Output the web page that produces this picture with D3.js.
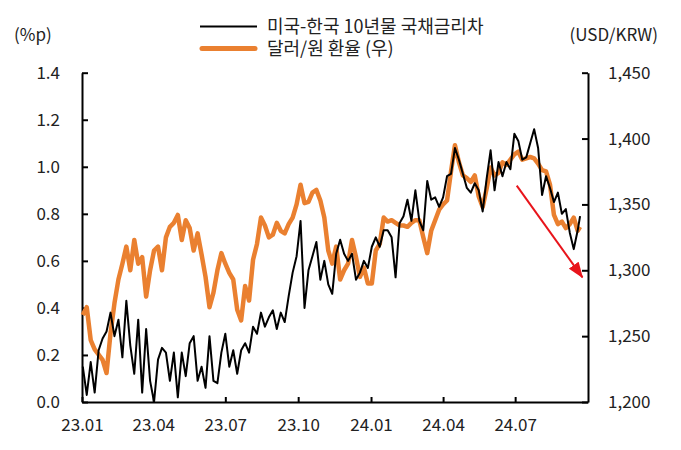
<!DOCTYPE html>
<meta charset="utf-8">
<script src="https://d3js.org/d3.v7.min.js"></script>
<style>
  body { margin: 0; background: #fff; }
  text { font-family: 'Noto Sans CJK KR', 'Noto Sans', sans-serif; fill: #222; }
</style>
<body>
<div id="chart"></div>
<script>

// sample dates (every 5 days)
var dates = ["2023-01-02","2023-01-07","2023-01-12","2023-01-17","2023-01-22","2023-01-27",
  "2023-02-01","2023-02-06","2023-02-11","2023-02-16","2023-02-21","2023-02-26",
  "2023-03-03","2023-03-08","2023-03-13","2023-03-18","2023-03-23","2023-03-28",
  "2023-04-02","2023-04-07","2023-04-12","2023-04-17","2023-04-22","2023-04-27",
  "2023-05-02","2023-05-07","2023-05-12","2023-05-17","2023-05-22","2023-05-27",
  "2023-06-01","2023-06-06","2023-06-11","2023-06-16","2023-06-21","2023-06-26",
  "2023-07-01","2023-07-06","2023-07-11","2023-07-16","2023-07-21","2023-07-26","2023-07-31",
  "2023-08-05","2023-08-10","2023-08-15","2023-08-20","2023-08-25","2023-08-30",
  "2023-09-04","2023-09-09","2023-09-14","2023-09-19","2023-09-24","2023-09-29",
  "2023-10-04","2023-10-09","2023-10-14","2023-10-19","2023-10-24","2023-10-29",
  "2023-11-03","2023-11-08","2023-11-13","2023-11-18","2023-11-23","2023-11-28",
  "2023-12-03","2023-12-08","2023-12-13","2023-12-18","2023-12-23","2023-12-28",
  "2024-01-02","2024-01-07","2024-01-12","2024-01-17","2024-01-22","2024-01-27",
  "2024-02-01","2024-02-06","2024-02-11","2024-02-16","2024-02-21","2024-02-26",
  "2024-03-02","2024-03-07","2024-03-12","2024-03-17","2024-03-22","2024-03-27",
  "2024-04-01","2024-04-06","2024-04-11","2024-04-16","2024-04-21","2024-04-26",
  "2024-05-01","2024-05-06","2024-05-11","2024-05-16","2024-05-21","2024-05-26","2024-05-31",
  "2024-06-05","2024-06-10","2024-06-15","2024-06-20","2024-06-25","2024-06-30",
  "2024-07-05","2024-07-10","2024-07-15","2024-07-20","2024-07-25","2024-07-30",
  "2024-08-04","2024-08-09","2024-08-14","2024-08-19","2024-08-24","2024-08-29",
  "2024-09-03","2024-09-08","2024-09-13","2024-09-18","2024-09-21"];

// US-Korea 10y spread (%p, left axis)
var spread = [0.15,0.03,0.17,0.04,0.22,0.27,0.30,0.38,0.28,0.35,0.19,0.43,0.24,0.12,0.35,0.04,0.31,0.09,
  0.00,0.18,0.23,0.21,0.09,0.21,0.02,0.21,0.11,0.25,0.28,0.09,0.15,0.06,0.28,0.09,0.08,0.21,
  0.29,0.15,0.22,0.12,0.22,0.25,0.21,0.32,0.29,0.38,0.32,0.36,0.39,0.31,0.38,0.34,0.45,0.55,
  0.62,0.77,0.40,0.56,0.62,0.68,0.52,0.60,0.50,0.46,0.63,0.69,0.63,0.60,0.63,0.52,0.55,0.60,
  0.57,0.66,0.70,0.66,0.73,0.73,0.70,0.53,0.76,0.79,0.86,0.77,0.90,0.77,0.73,0.94,0.86,0.87,
  0.83,0.87,0.96,0.97,1.08,1.03,0.97,0.91,0.89,0.93,0.90,0.81,0.95,1.07,0.90,1.02,0.96,1.02,
  0.99,1.14,1.11,1.03,1.04,1.10,1.16,1.08,0.88,0.96,0.91,0.85,0.89,0.80,0.82,0.72,0.65,0.73,0.79];

// USD/KRW (right axis)
var usdkrw = [1266,1272,1247,1240,1236,1232,1222,1252,1275,1293,1305,1318,1300,1323,1305,1310,1280,1300,
  1315,1318,1300,1325,1333,1336,1342,1323,1338,1332,1315,1328,1312,1295,1272,1283,1300,1313,
  1305,1298,1293,1270,1262,1288,1277,1308,1320,1340,1334,1325,1327,1336,1330,1328,1335,1340,
  1350,1365,1351,1352,1359,1361,1353,1340,1315,1305,1318,1293,1300,1305,1323,1310,1295,1302,
  1290,1290,1315,1320,1340,1337,1338,1336,1334,1334,1333,1336,1338,1338,1325,1313,1330,1338,
  1346,1350,1353,1375,1395,1382,1372,1370,1367,1372,1356,1348,1362,1378,1372,1374,1382,1380,
  1384,1388,1390,1384,1385,1386,1385,1381,1376,1375,1365,1342,1335,1337,1332,1335,1340,1330,1333];

var xTicks = ["2023-01-01","2023-04-01","2023-07-01","2023-10-01","2024-01-01","2024-04-01","2024-07-01"];
var leftTicks = [0, 0.2, 0.4, 0.6, 0.8, 1.0, 1.2, 1.4];
var rightTicks = [1200, 1250, 1300, 1350, 1400, 1450];
var seriesNames = ["미국-한국 10년물 국채금리차", "달러/원 환율 (우)"];
// arrow annotation: [date, spread value]
var arrowFrom = ["2024-07-03", 0.92];
var arrowTo = ["2024-09-24", 0.53];

var W = 681, H = 450;
var plotL = 82, plotR = 588, plotT = 72.7, plotB = 402;
var parse = d3.timeParse("%Y-%m-%d");

var svg = d3.select("#chart").append("svg")
  .attr("width", W)
  .attr("height", H);

var x = d3.scaleTime()
  .domain([parse("2023-01-01"), parse("2024-10-01")])
  .range([plotL, plotR]);
var y = d3.scaleLinear().domain([0, 1.4]).range([plotB, plotT]);
var y2 = d3.scaleLinear().domain([1200, 1450]).range([plotB, plotT]);

var data = dates.map(function(d, i) {
  return { date: parse(d), spread: spread[i], fx: usdkrw[i] };
});

// axes
svg.append("g")
  .attr("transform", "translate(0," + plotB + ")")
  .call(d3.axisBottom(x)
    .tickValues(xTicks.map(parse))
    .tickFormat(d3.timeFormat("%y.%m"))
    .tickSizeInner(-5).tickSizeOuter(0).tickPadding(17));

svg.append("g")
  .attr("transform", "translate(" + plotL + ",0)")
  .call(d3.axisLeft(y).tickValues(leftTicks).tickFormat(d3.format(".1f"))
    .tickSizeInner(-6).tickSizeOuter(0).tickPadding(22));

svg.append("g")
  .attr("transform", "translate(" + plotR + ",0)")
  .call(d3.axisRight(y2).tickValues(rightTicks).tickFormat(d3.format(","))
    .tickSizeInner(-6).tickSizeOuter(0).tickPadding(20));

svg.selectAll(".domain").attr("stroke", "#000").attr("stroke-width", 2);
svg.selectAll(".tick line").attr("stroke", "#000").attr("stroke-width", 2);
svg.selectAll(".tick text").style("font-size", "17px").attr("fill", "#222");

// lines
svg.append("path")
  .datum(data)
  .attr("fill", "none")
  .attr("stroke", "#EA8030")
  .attr("stroke-width", 4.5)
  .attr("stroke-linejoin", "round")
  .attr("d", d3.line()
    .x(function(d) { return x(d.date); })
    .y(function(d) { return y2(d.fx); }));

svg.append("path")
  .datum(data)
  .attr("fill", "none")
  .attr("stroke", "#000")
  .attr("stroke-width", 2)
  .attr("stroke-linejoin", "round")
  .attr("d", d3.line()
    .x(function(d) { return x(d.date); })
    .y(function(d) { return y(d.spread); }));

// arrow
svg.append("defs").append("marker")
  .attr("id", "head")
  .attr("viewBox", "0 0 16 12")
  .attr("refX", 15).attr("refY", 6)
  .attr("markerWidth", 16).attr("markerHeight", 12)
  .attr("markerUnits", "userSpaceOnUse")
  .attr("orient", "auto")
  .append("path")
    .attr("d", "M0,0L16,6L0,12Z")
    .attr("fill", "#E8141B");

svg.append("line")
  .attr("x1", x(parse(arrowFrom[0]))).attr("y1", y(arrowFrom[1]))
  .attr("x2", x(parse(arrowTo[0]))).attr("y2", y(arrowTo[1]))
  .attr("stroke", "#E8141B")
  .attr("stroke-width", 2)
  .attr("marker-end", "url(#head)");

// legend
var legend = svg.append("g");
legend.append("line")
  .attr("x1", 200).attr("x2", 257).attr("y1", 26.5).attr("y2", 26.5)
  .attr("stroke", "#000").attr("stroke-width", 2);
legend.append("line")
  .attr("x1", 202).attr("x2", 255).attr("y1", 48.5).attr("y2", 48.5)
  .attr("stroke", "#EA8030").attr("stroke-width", 5).attr("stroke-linecap", "round");
legend.selectAll("text.lab")
  .data(seriesNames)
  .enter().append("text")
    .attr("class", "lab")
    .attr("x", 267)
    .attr("y", function(d, i) { return 27 + i * 22; })
    .attr("dy", "0.35em")
    .style("font-size", "18px")
    .text(function(d) { return d; });

// axis titles
svg.append("text")
  .attr("x", 14).attr("y", 35).attr("dy", "0.35em")
  .style("font-size", "17px")
  .text("(%p)");
svg.append("text")
  .attr("x", 658).attr("y", 35).attr("dy", "0.35em")
  .attr("text-anchor", "end")
  .style("font-size", "17px")
  .text("(USD/KRW)");

</script>
</body>
